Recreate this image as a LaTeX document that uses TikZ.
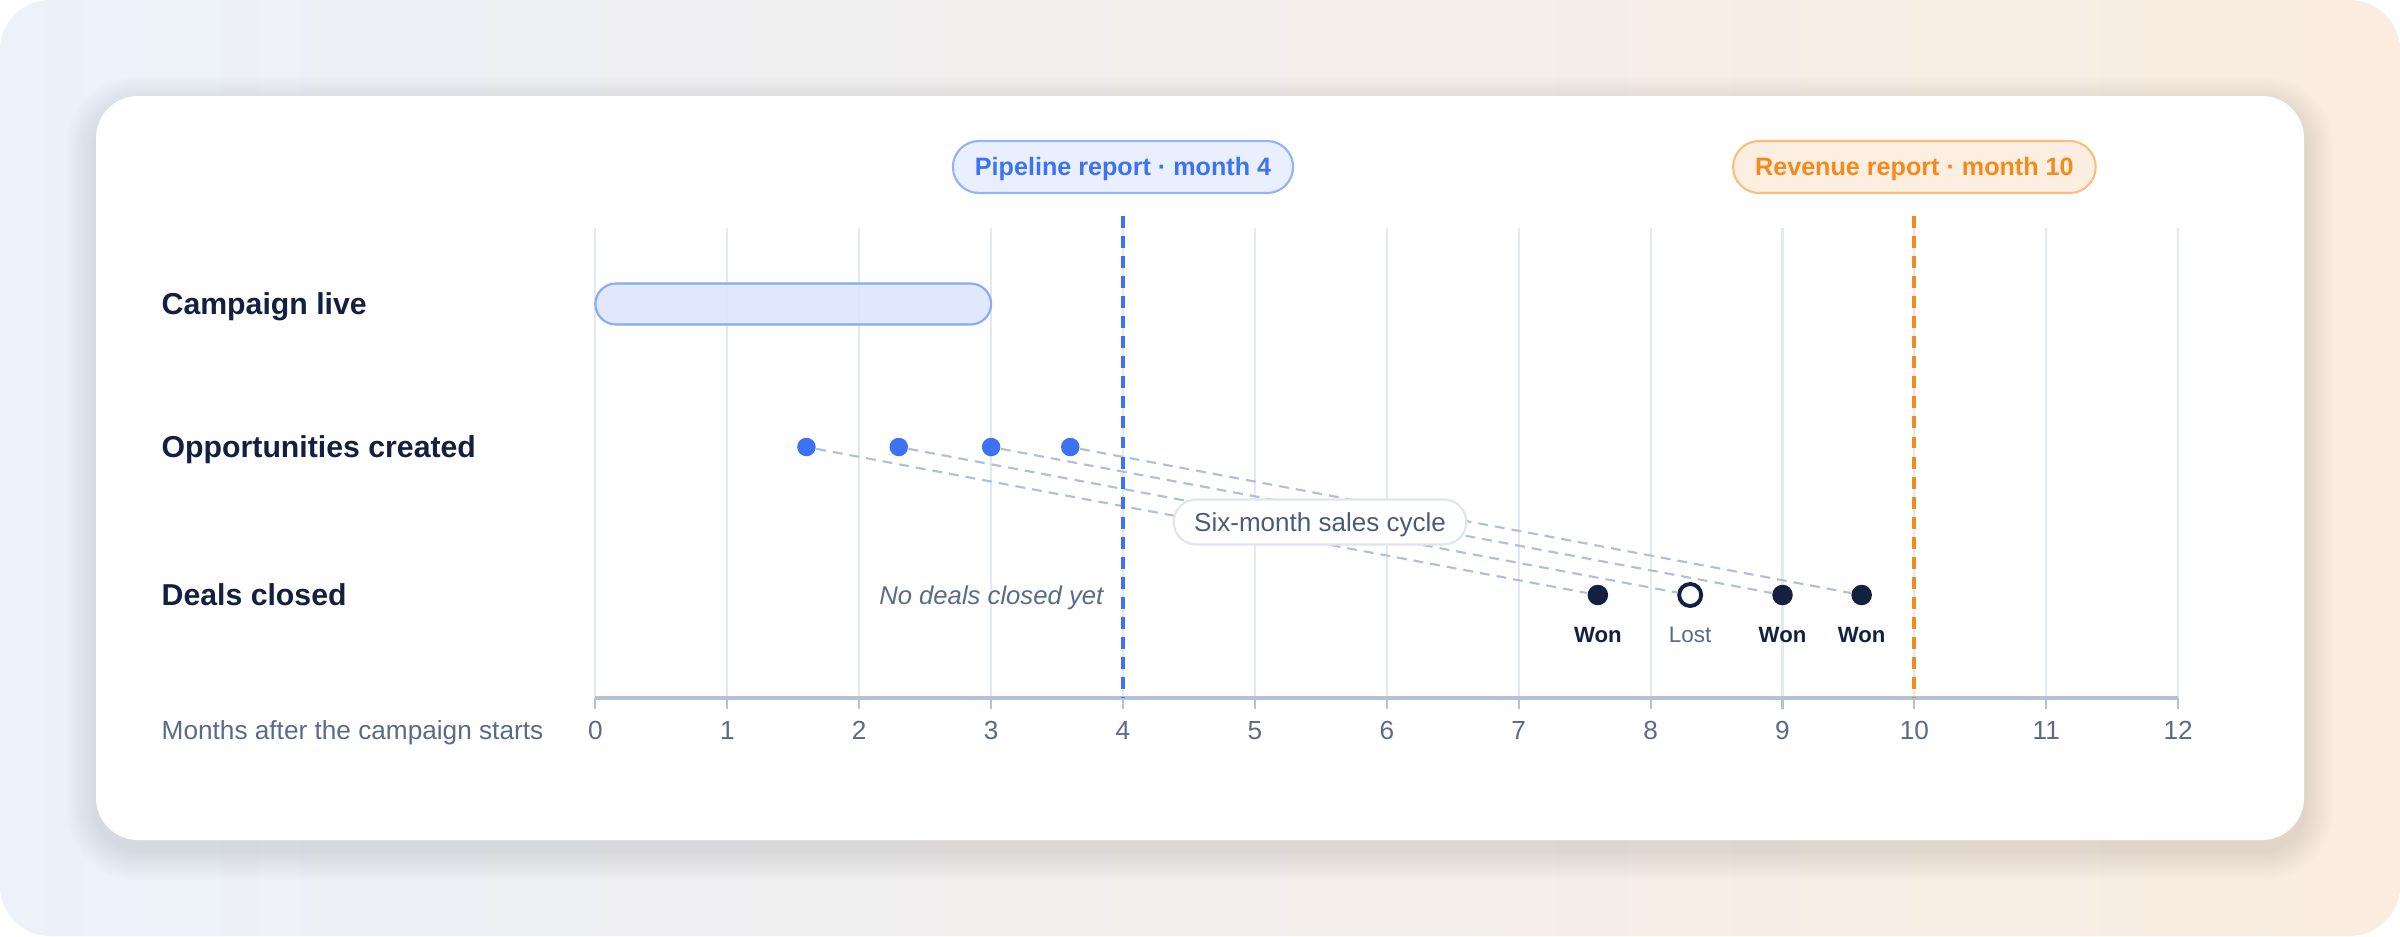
\documentclass[tikz,border=0pt]{standalone}
\usepackage{fontspec}
\setmainfont{Liberation Sans}

\definecolor{navy}{HTML}{13203F}
\definecolor{slate}{HTML}{5B6B87}
\definecolor{gridc}{HTML}{E3E8F1}
\definecolor{axisc}{HTML}{B5C1D6}
\definecolor{pipeblue}{HTML}{3D72F5}
\definecolor{pipefill}{HTML}{E9EFFD}
\definecolor{pipeedge}{HTML}{93B2F9}
\definecolor{barfill}{HTML}{DCE5FD}
\definecolor{baredge}{HTML}{8AA9F7}
\definecolor{revorange}{HTML}{F58A1C}
\definecolor{revfill}{HTML}{FCEFE1}
\definecolor{revedge}{HTML}{F8BF7F}
\definecolor{cyclec}{HTML}{B1BED4}
\definecolor{pilledge}{HTML}{DFE4EE}
\definecolor{cycletext}{HTML}{4B5B78}
\definecolor{bgleft}{HTML}{ECF1FA}
\definecolor{bgmid}{HTML}{F3F1EE}
\definecolor{bgright}{HTML}{FAEDDF}

\tikzset{
  rowlabel/.style={anchor=west, inner sep=0pt, text=navy,
    font=\fontsize{8.6}{10}\selectfont\bfseries, text height=6.2pt, text depth=0pt},
  ticklabel/.style={inner sep=0pt, text=slate,
    font=\fontsize{7.45}{9}\selectfont, text height=5.3pt, text depth=0pt},
  reportpill/.style={rounded corners=2.6mm, minimum height=5.2mm, inner xsep=2.2mm,
    inner ysep=0pt, line width=0.6pt, font=\fontsize{7.15}{9}\selectfont\bfseries,
    text height=5.1pt, text depth=0pt},
  reportline/.style={line width=1.1pt, dash pattern=on 3.4pt off 2.3pt},
  cycleline/.style={cyclec, line width=0.6pt, dash pattern=on 2.8pt off 2pt},
  oppdot/.style={circle, fill=pipeblue, minimum size=1.85mm, inner sep=0pt},
  wondot/.style={circle, fill=navy, minimum size=2.05mm, inner sep=0pt},
  lostdot/.style={circle, draw=navy, fill=white, line width=1.1pt, minimum size=2.2mm, inner sep=0pt},
  dealtag/.style={inner sep=0pt, font=\fontsize{6.4}{8}\selectfont, text height=4.6pt, text depth=0pt}
}

\begin{document}
\begin{tikzpicture}[x=0.01cm, y=-0.01cm]
\useasboundingbox (0,0) rectangle (2400,936);

% backdrop and card
\shade[left color=bgleft, middle color=bgmid, right color=bgright, rounded corners=5mm] (0,0) rectangle (2400,936);
\foreach \s in {1,...,12}
{
    \fill[black, fill opacity=0.007, rounded corners={4.2mm+\s*0.25mm}]
        (96-\s*2.5,96-\s*2.5+10) rectangle (2304+\s*2.5,840+\s*2.5+10);
}
\fill[white, rounded corners=4.2mm] (96,96) rectangle (2304,840);

% grid, ticks and month numbers
\foreach \m in {0,...,12}
{
    \draw[gridc, line width=0.6pt] ({595.4+131.9*\m},228) -- ({595.4+131.9*\m},698);
    \draw[axisc, line width=0.6pt] ({595.4+131.9*\m},698) -- ({595.4+131.9*\m},709);
    \node[ticklabel] (t\m) at ({595.4+131.9*\m},730) {\m};
}
\draw[axisc, line width=0.9pt] (595.4,698) -- (2178.2,698);
\node[ticklabel, anchor=west] (axislabel) at (161,730) {Months after the campaign starts};

% row names
\node[rowlabel] (campaign) at (161,304) {Campaign live};
\node[rowlabel] (opps) at (161,447) {Opportunities created};
\node[rowlabel] (deals) at (161,595) {Deals closed};

% campaign bar, month 0 to 3
\draw[baredge, fill=barfill, fill opacity=0.85, line width=0.6pt, rounded corners=2.05mm]
    (595.4,283.5) rectangle (991.1,324.5);

% opportunities and closed deals
\foreach \m [count=\i] in {1.6,2.3,3.0,3.6}
{
    \node[oppdot] (o\i) at ({595.4+131.9*\m},447) {};
}
\node[wondot] (d1) at ({595.4+131.9*7.6},595) {};
\node[lostdot] (d2) at ({595.4+131.9*8.3},595) {};
\node[wondot] (d3) at ({595.4+131.9*9.0},595) {};
\node[wondot] (d4) at ({595.4+131.9*9.6},595) {};
\foreach \i in {1,...,4}
{
    \draw[cycleline] (o\i) -- (d\i);
}
\coordinate (tagrow) at (0,634);
\node[dealtag, text=navy, font=\fontsize{6.3}{8}\selectfont\bfseries] (w1) at (d1 |- tagrow) {Won};
\node[dealtag, text=slate] (l2) at (d2 |- tagrow) {Lost};
\node[dealtag, text=navy, font=\fontsize{6.3}{8}\selectfont\bfseries] (w3) at (d3 |- tagrow) {Won};
\node[dealtag, text=navy, font=\fontsize{6.3}{8}\selectfont\bfseries] (w4) at (d4 |- tagrow) {Won};

% report dates
\coordinate (pipetop) at ({595.4+131.9*4},216);
\coordinate (pipebot) at ({595.4+131.9*4},698);
\coordinate (revtop) at ({595.4+131.9*10},216);
\coordinate (revbot) at ({595.4+131.9*10},698);
\draw[reportline, pipeblue] (pipetop) -- (pipebot);
\draw[reportline, revorange] (revtop) -- (revbot);
\node[reportpill, draw=pipeedge, fill=pipefill, text=pipeblue] (pipe) at ({595.4+131.9*4},167) {Pipeline report · month 4};
\node[reportpill, draw=revedge, fill=revfill, text=revorange] (rev) at ({595.4+131.9*10},167) {Revenue report · month 10};

\node[draw=pilledge, fill=white, line width=0.6pt, rounded corners=2.25mm, minimum height=4.5mm,
    inner xsep=2.05mm, inner ysep=0pt, text=cycletext, font=\fontsize{7.4}{9}\selectfont,
    text height=5.3pt, text depth=0pt] (cycle) at (1320,522) {Six-month sales cycle};
\node[anchor=east, inner sep=0pt, text=slate, font=\fontsize{7.3}{9}\selectfont\itshape,
    text height=5.2pt, text depth=0pt] (nodeals) at (1104,595) {No deals closed yet};
\end{tikzpicture}
\end{document}
